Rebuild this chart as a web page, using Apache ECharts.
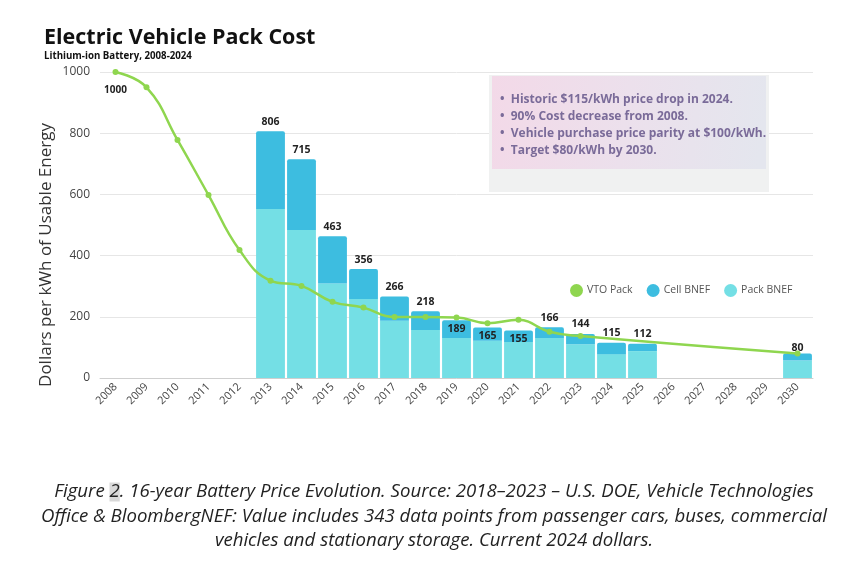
<!DOCTYPE html>
<html>
<head>
<meta charset="utf-8">
<script src="https://cdn.jsdelivr.net/npm/echarts@6/dist/echarts.min.js"></script>
<style>
html,body{margin:0;padding:0;background:#fff;}
#chart{width:868px;height:562px;}
</style>
</head>
<body>
<div id="chart"></div>
<script>
const years = ['2008','2009','2010','2011','2012','2013','2014','2015','2016','2017','2018','2019','2020','2021','2022','2023','2024','2025','2026','2027','2028','2029','2030'];
const vtoPack = [1000, 950, 778, 598, 418, 318, 301, 249, 230, 199, 199, 198, 179, 190, 151, 137, null, null, null, null, null, null, 80];
const packBNEF = [null, null, null, null, null, 552, 484, 309, 258, 187, 157, 131, 122, 118, 131, 110, 78, 88, null, null, null, null, 57];
const cellBNEF = [null, null, null, null, null, 254, 231, 154, 98, 79, 61, 58, 43, 37, 35, 34, 37, 24, null, null, null, null, 23];
const totalLabels = [null, null, null, null, null, 806, 715, 463, 356, 266, 218, 189, 165, 155, 166, 144, 115, 112, null, null, null, null, 80];
const yTicks = [0, 200, 400, 600, 800, 1000];
const notes = [
  'Historic $115/kWh price drop in 2024.',
  '90% Cost decrease from 2008.',
  'Vehicle purchase price parity at $100/kWh.',
  'Target $80/kWh by 2030.'
];
const captionLines = [
  '{i|Figure }{hl|2}{i|. 16-year Battery Price Evolution. Source: 2018\u20132023 \u2013 U.S. DOE, Vehicle Technologies}',
  '{i|Office & BloombergNEF: Value includes 343 data points from passenger cars, buses, commercial}',
  '{i|vehicles and stationary storage. Current 2024 dollars.}'
];

const insideLabelYears = ['2019', '2020', '2021'];
const chart = echarts.init(document.getElementById('chart'), null, {renderer: 'canvas'});

const cellData = cellBNEF.map((v, i) => {
  if (v == null) return v;
  const inside = insideLabelYears.indexOf(years[i]) >= 0;
  return {
    value: v,
    label: {
      show: true,
      position: inside ? 'insideTop' : 'top',
      distance: inside ? 3 : (years[i] === '2030' ? 0 : 4),
      formatter: String(totalLabels[i])
    }
  };
});

const capFont = 'italic 18.6px "Open Sans"';

const option = {
  backgroundColor: '#ffffff',
  animation: false,
  textStyle: {fontFamily: 'Open Sans'},
  grid: {left: 100, right: 55, top: 72, bottom: 184, containLabel: false},
  legend: {
    left: 565, top: 279,
    itemWidth: 13, itemHeight: 13, itemGap: 14,
    icon: 'circle',
    textStyle: {fontSize: 10.5, color: '#555', fontFamily: 'Open Sans', padding: [0, 0, 0, -1]},
    data: ['VTO Pack', 'Cell BNEF', 'Pack BNEF']
  },
  xAxis: {
    type: 'category',
    data: years,
    axisLine: {lineStyle: {color: '#cfcfcf'}},
    axisTick: {show: false},
    axisLabel: {rotate: 45, fontSize: 11, color: '#444', margin: 7, interval: 0}
  },
  yAxis: {
    type: 'value',
    min: yTicks[0], max: yTicks[yTicks.length - 1], interval: 200,
    axisLine: {show: false},
    axisTick: {show: false},
    splitLine: {lineStyle: {color: '#e6e6e6'}},
    axisLabel: {fontSize: 12, color: '#444', margin: 10, formatter: v => String(v)}
  },
  series: [
    {
      name: 'Pack BNEF', type: 'bar', stack: 'bnef',
      data: packBNEF, barCategoryGap: '7%',
      itemStyle: {color: '#74dfe5'}
    },
    {
      name: 'Cell BNEF', type: 'bar', stack: 'bnef',
      data: cellData,
      itemStyle: {color: '#3dbde0', borderRadius: [2, 2, 0, 0]},
      label: {fontSize: 10.5, fontWeight: 'bold', color: '#222'}
    },
    {
      name: 'VTO Pack', type: 'line', data: vtoPack.map((v, i) => i === 0 ? {value: v, label: {show: true, position: 'bottom', distance: 10, fontSize: 10, fontWeight: 'bold', color: '#222'}} : v),
      smooth: 0.45, connectNulls: true,
      symbol: 'circle', symbolSize: 6, showSymbol: true,
      lineStyle: {color: '#8fd64f', width: 2.5},
      itemStyle: {color: '#8fd64f'},
      z: 5
    }
  ],
  graphic: [
    {type: 'text', left: 44, top: 27, style: {text: 'Electric Vehicle Pack Cost', font: 'bold 21.5px "Open Sans"', fill: '#111'}},
    {type: 'text', left: 44, top: 51, style: {text: 'Lithium-ion Battery, 2008-2024', font: 'bold 9.7px "Open Sans"', fill: '#111'}},
    {type: 'text', x: 46, y: 255, rotation: Math.PI / 2, style: {text: 'Dollars per kWh of Usable Energy', font: '17px "Open Sans"', fill: '#333', align: 'center', verticalAlign: 'middle'}},
    {type: 'rect', z: 100, shape: {x: 489, y: 75, width: 280, height: 117}, style: {fill: '#f0f1f1'}},
    {type: 'rect', z: 101, shape: {x: 492, y: 76, width: 274, height: 93},
      style: {fill: new echarts.graphic.LinearGradient(0, 0, 1, 0.4, [{offset: 0, color: '#f3d9e8'}, {offset: 0.5, color: '#ece0ec'}, {offset: 1, color: '#e4e6ee'}])}},
    ...notes.map((t, i) => ({type: 'text', z: 102, x: 500, y: 100 + i * 16.7,
      style: {text: '\u2022  ' + t, font: 'bold 12px "Open Sans"', fill: '#7a6b99', verticalAlign: 'middle'}})),
    ...captionLines.map((t, i) => ({type: 'text', x: 434, y: 492 + i * 24.5,
      style: {text: t, align: 'center', verticalAlign: 'middle',
        rich: {
          i: {font: capFont, fill: '#222'},
          hl: {font: capFont, fill: '#222', backgroundColor: '#d9d9d9'}
        }}}))
  ]
};
chart.setOption(option);
</script>
</body>
</html>
